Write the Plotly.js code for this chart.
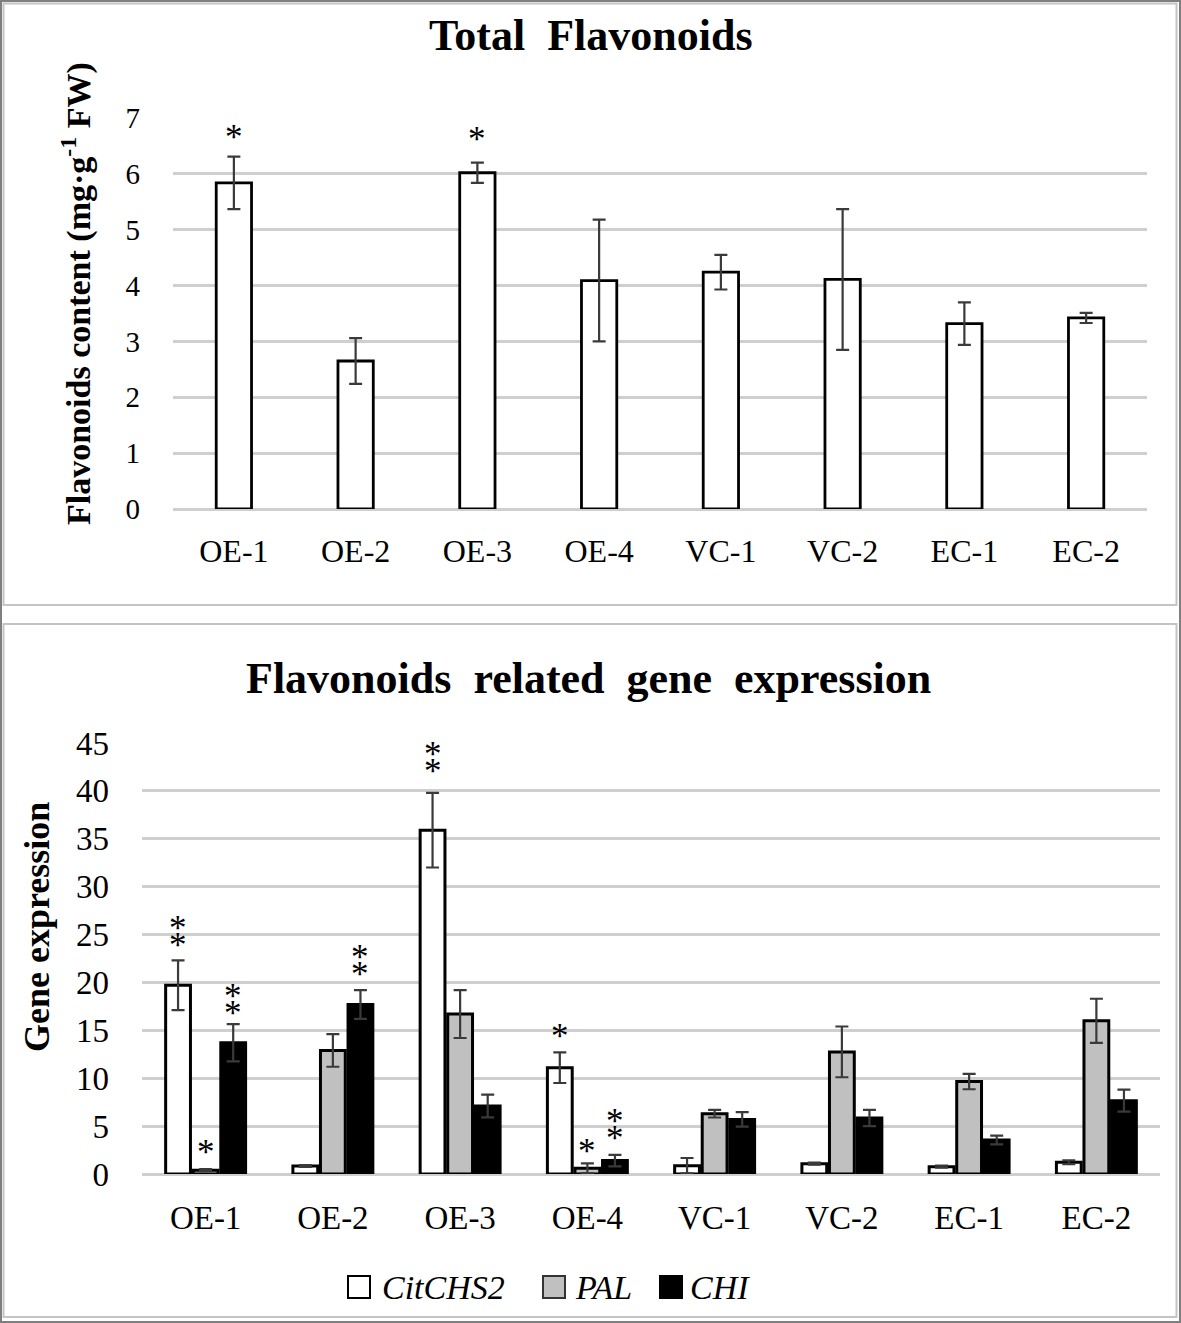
<!DOCTYPE html>
<html><head><meta charset="utf-8">
<script src="https://cdn.plot.ly/plotly-3.0.1.min.js"></script>
<style>body{margin:0;background:#fff}#chart{width:1181px;height:1323px}</style>
</head><body><div id="chart"></div>
<script>
// ---- data ----
const categories = ['OE-1','OE-2','OE-3','OE-4','VC-1','VC-2','EC-1','EC-2'];
const totalFlavonoids    = [5.84, 2.65, 6.02, 4.09, 4.24, 4.11, 3.32, 3.42];
const totalFlavonoidsErr = [0.47, 0.41, 0.18, 1.09, 0.31, 1.26, 0.38, 0.09];
const citCHS2    = [19.7, 0.84, 35.9, 11.1, 0.87, 1.08, 0.77, 1.22];
const citCHS2Err = [2.6, 0.1, 3.9, 1.6, 0.8, 0.1, 0.12, 0.2];
const pal        = [0.4, 12.9, 16.7, 0.6, 6.3, 12.75, 9.65, 16.0];
const palErr     = [0.1, 1.7, 2.5, 0.5, 0.4, 2.65, 0.8, 2.3];
const chi        = [13.7, 17.7, 7.1, 1.4, 5.7, 5.85, 3.55, 7.66];
const chiErr     = [1.95, 1.5, 1.18, 0.6, 0.75, 0.85, 0.45, 1.15];
const seriesNames = ['CitCHS2', 'PAL', 'CHI'];
const topTitle = 'Total\u00a0 Flavonoids';
const bottomTitle = 'Flavonoids\u00a0 related\u00a0 gene\u00a0 expression';
const topYTitle = 'Flavonoids content (mg·g<sup>-1</sup> FW)';
const bottomYTitle = 'Gene expression';
// significance marks
const topStars  = [[0, 6.73], [2, 6.68]];                 // [category index, y of asterisk]
const geneStars = [[0,0,26.2,2],[0,1,2.8,1],[0,2,19.1,2],[1,2,23.1,2],
                   [2,0,44.3,2],[3,0,14.9,1],[3,1,2.9,1],[3,2,6.0,2]]; // [cat, series, y of top asterisk, count]

// ---- layout helpers ----
const W = 1181, H = 1323;
const px = x => x / W, py = y => 1 - y / H;
const FONT = 'Liberation Serif, Times New Roman, serif';
const fills = ['#ffffff', '#c0c0c0', '#000000'];
const gapBar = 0.35;

const errStyle = (arr) => ({type:'data', array: arr, visible: true, color:'#3a3a3a', thickness: 2.2, width: 6.5});

const traces = [
  {type:'bar', x: categories, y: totalFlavonoids, xaxis:'x', yaxis:'y', width: 0.29,
   marker:{color:'#ffffff', line:{color:'#000', width:2.8}}, error_y: errStyle(totalFlavonoidsErr),
   showlegend:false, hoverinfo:'skip'}
];
[citCHS2, pal, chi].forEach((vals, k) => {
  traces.push({type:'bar', x: categories, y: vals, xaxis:'x2', yaxis:'y2', name: seriesNames[k],
    marker:{color: fills[k], line:{color:'#000', width:3}},
    error_y: errStyle([citCHS2Err, palErr, chiErr][k]), showlegend:false, hoverinfo:'skip'});
});

const annotations = [];
const starFont = {family: FONT, size: 35, color:'#000'};
topStars.forEach(([c, y]) => annotations.push({xref:'x', yref:'y', x: c, y: y, text:'*', showarrow:false,
  font: starFont, yanchor:'middle', yshift:-4}));
const slot = (1 - gapBar) / 3;
geneStars.forEach(([c, k, y, n]) => {
  for (let i = 0; i < n; i++) {
    annotations.push({xref:'x2', yref:'y2', x: c + (k - 1) * slot, y: y, text:'*', showarrow:false,
      font: starFont, yanchor:'middle', yshift: -5 - i * 17});
  }
});
// titles
annotations.push({xref:'paper', yref:'paper', x: px(591), y: py(35), text: '<b>' + topTitle + '</b>', showarrow:false,
  font:{family: FONT, size: 44, color:'#000'}, xanchor:'center', yanchor:'middle'});
annotations.push({xref:'paper', yref:'paper', x: px(588), y: py(678), text: '<b>' + bottomTitle + '</b>', showarrow:false,
  font:{family: FONT, size: 44, color:'#000'}, xanchor:'center', yanchor:'middle'});
annotations.push({xref:'paper', yref:'paper', x: px(76), y: py(294), text: '<b>' + topYTitle + '</b>', showarrow:false,
  textangle: -90, font:{family: FONT, size: 34, color:'#000'}, xanchor:'center', yanchor:'middle'});
annotations.push({xref:'paper', yref:'paper', x: px(37), y: py(927), text: '<b>' + bottomYTitle + '</b>', showarrow:false,
  textangle: -90, font:{family: FONT, size: 36, color:'#000'}, xanchor:'center', yanchor:'middle'});

// legend (custom)
const shapes = [];
const legendItems = [[348, 380], [543, 573], [660, 688]];
legendItems.forEach(([bx, tx], k) => {
  shapes.push({type:'rect', xref:'paper', yref:'paper', x0: px(bx), x1: px(bx + 22), y0: py(1298), y1: py(1276),
    fillcolor: fills[k], line:{color: k === 1 ? '#333' : '#000', width: 2}});
  annotations.push({xref:'paper', yref:'paper', x: px(tx), y: py(1287), text: '<i>' + seriesNames[k] + '</i>',
    showarrow:false, xanchor:'left', yanchor:'middle', font:{family: FONT, size: 34, color:'#000'}});
});
// panel borders
shapes.push({type:'rect', xref:'paper', yref:'paper', x0: px(1), x1: px(1180), y0: py(1322), y1: py(1),
  line:{color:'#7f7f7f', width:2}, layer:'below'});
shapes.push({type:'rect', xref:'paper', yref:'paper', x0: px(3.5), x1: px(1176.5), y0: py(605), y1: py(3.5),
  line:{color:'#c4c4c4', width:2}, layer:'below'});
shapes.push({type:'rect', xref:'paper', yref:'paper', x0: px(3.5), x1: px(1176.5), y0: py(1317), y1: py(624),
  line:{color:'#c4c4c4', width:2}, layer:'below'});

const xCommon = {type:'category', ticks:'', showgrid:false, showline:false, zeroline:false, fixedrange:true};
const yCommon = {ticks:'', showline:false, gridcolor:'#cfcfcf', gridwidth:3, zeroline:true,
  zerolinecolor:'#cfcfcf', zerolinewidth:3, fixedrange:true, ticklabelstandoff: 32};

const layout = {
  width: W, height: H, margin:{l:0, r:0, t:0, b:0}, paper_bgcolor:'#fff', plot_bgcolor:'#fff',
  barmode:'group', bargap: gapBar, bargroupgap: 0.1, showlegend:false,
  font:{family: FONT, color:'#000'},
  xaxis: Object.assign({}, xCommon, {domain:[px(173), px(1147)], anchor:'y',
    tickfont:{family: FONT, size:32, color:'#000'}, ticklabelstandoff: 20}),
  yaxis: Object.assign({}, yCommon, {domain:[py(509), py(118)], anchor:'x', range:[0, 7], dtick:1,
    tickfont:{family: FONT, size:29, color:'#000'}}),
  xaxis2: Object.assign({}, xCommon, {domain:[px(142), px(1160)], anchor:'y2',
    tickfont:{family: FONT, size:33, color:'#000'}, ticklabelstandoff: 21}),
  yaxis2: Object.assign({}, yCommon, {domain:[py(1174), py(743)], anchor:'x2', range:[0, 45], dtick:5,
    tickfont:{family: FONT, size:33, color:'#000'}}),
  annotations: annotations, shapes: shapes
};
Plotly.newPlot('chart', traces, layout, {staticPlot:true, displayModeBar:false});
</script></body></html>
